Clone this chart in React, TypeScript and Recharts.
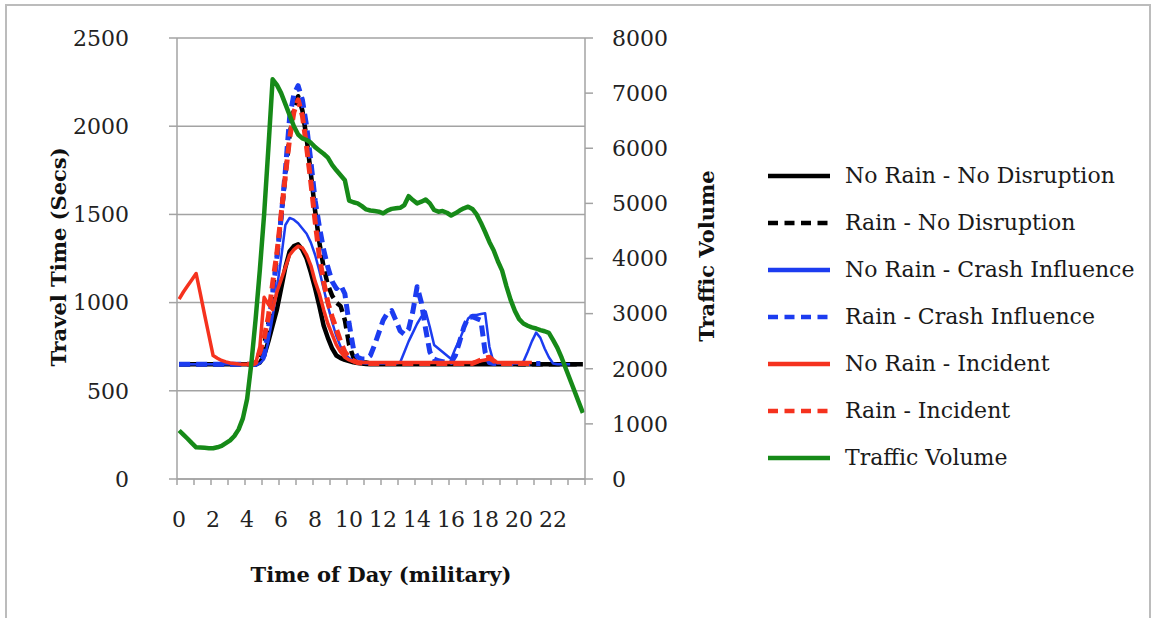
import React from 'react';
import { LineChart, Line, XAxis, YAxis, CartesianGrid, Label } from 'recharts';

// time of day in hours (15-minute steps)
const times = [
  0, 0.25, 0.5, 0.75, 1, 1.25, 1.5, 1.75, 2, 2.25, 2.5, 2.75, 3, 3.25, 3.5, 3.75,
  4, 4.25, 4.5, 4.75, 5, 5.25, 5.5, 5.75, 6, 6.25, 6.5, 6.75, 7, 7.25, 7.5, 7.75,
  8, 8.25, 8.5, 8.75, 9, 9.25, 9.5, 9.75, 10, 10.25, 10.5, 10.75, 11, 11.25, 11.5, 11.75,
  12, 12.25, 12.5, 12.75, 13, 13.25, 13.5, 13.75, 14, 14.25, 14.5, 14.75, 15, 15.25, 15.5, 15.75,
  16, 16.25, 16.5, 16.75, 17, 17.25, 17.5, 17.75, 18, 18.25, 18.5, 18.75, 19, 19.25, 19.5, 19.75,
  20, 20.25, 20.5, 20.75, 21, 21.25, 21.5, 21.75, 22, 22.25, 22.5, 22.75, 23, 23.25, 23.5, 23.75,
];

const xTickLabels = ['0', '2', '4', '6', '8', '10', '12', '14', '16', '18', '20', '22'];
const leftTicks = [0, 500, 1000, 1500, 2000, 2500];
const rightTicks = [0, 1000, 2000, 3000, 4000, 5000, 6000, 7000, 8000];

const noRainNoDisruption = [
  650, 650, 650, 650, 650, 650, 650, 650, 650, 650, 650, 650, 650, 650, 650, 650,
  650, 650, 650, 660, 700, 780, 870, 960, 1080, 1200, 1290, 1320, 1330, 1300, 1250, 1170,
  1080, 980, 870, 800, 740, 700, 685, 675, 668, 662, 658, 655, 652, 650, 650, 650,
  650, 650, 650, 650, 650, 650, 650, 650, 650, 650, 650, 650, 650, 650, 650, 650,
  650, 650, 650, 650, 650, 650, 650, 650, 650, 650, 650, 650, 650, 650, 650, 650,
  650, 650, 650, 650, 650, 650, 650, 650, 650, 650, 650, 650, 650, 650, 650, 650,
];

const rainNoDisruption = [
  650, 650, 650, 650, 650, 650, 650, 650, 650, 650, 650, 650, 650, 650, 650, 650,
  650, 650, 650, 680, 760, 880, 1060, 1260, 1480, 1720, 1950, 2100, 2170, 2090, 1930, 1730,
  1520, 1340, 1200, 1100, 1040, 1000, 980, 900, 760, 690, 670, 660, 660, 655, 655, 655,
  655, 655, 655, 655, 655, 655, 655, 655, 655, 655, 655, 655, 655, 655, 655, 655,
  655, 655, 655, 655, 655, 655, 655, 655, 655, 655, 655, 655, 655, 655, 655, 655,
  650, 650, 650, 650, 650, 650, 650, 650, 650, 650, 650, 650, 650, 650, 650, 650,
];

const noRainCrash = [
  650, 650, 650, 650, 650, 650, 650, 650, 650, 650, 650, 650, 650, 650, 650, 650,
  650, 650, 650, 655, 680, 780, 920, 1080, 1250, 1440, 1480, 1470, 1450, 1420, 1390, 1340,
  1270, 1180, 1080, 980, 890, 810, 750, 710, 685, 670, 662, 658, 655, 655, 655, 655,
  655, 655, 655, 655, 660, 720, 780, 830, 880, 920, 950, 860, 760, 740, 720, 700,
  680, 740, 790, 850, 910, 930, 930, 935, 940, 750, 660, 655, 655, 655, 655, 655,
  655, 665, 720, 780, 830, 800, 740, 690, 655, 650, 650, 650, 650, null, null, null,
];

const rainCrash = [
  650, 650, 650, 650, 650, 650, 650, 650, 650, 650, 650, 650, 650, 650, 650, 650,
  650, 650, 650, 660, 700, 850, 1050, 1250, 1480, 1750, 2050, 2180, 2230, 2150, 2000, 1800,
  1580, 1430, 1300, 1200, 1120, 1080, 1100, 1050, 880, 740, 690, 680, 680, 700, 760, 830,
  900, 940, 955, 900, 840, 820, 850, 950, 1090, 1000, 850, 720, 680, 670, 665, 660,
  660, 700, 780, 860, 915, 920, 910, 900, 720, 660, 655, 655, 655, 655, 655, 655,
  655, 655, 655, 655, 655, 655, null, null, null, null, null, null, null, null, null, null,
];

const noRainIncident = [
  1020, 1060, 1095, 1130, 1165, 1050, 930, 815, 700, 685, 672, 664, 658, 655, 652, 650,
  650, 650, 655, 750, 1030, 990, 960, 1060, 1130, 1200, 1270, 1300, 1320, 1310, 1270, 1210,
  1120, 1050, 960, 880, 820, 760, 720, 690, 675, 665, 660, 660, 660, 660, 660, 660,
  660, 660, 660, 660, 660, 660, 660, 660, 660, 660, 660, 660, 660, 660, 660, 660,
  660, 660, 660, 660, 660, 660, 665, 670, 675, 680, 670, 660, 660, 660, 660, 660,
  660, 660, 660, 660, null, null, null, null, null, null, null, null, null, null, null, null,
];

const rainIncident = [
  null, null, null, null, null, null, null, null, null, null, null, null, null, null, null, null,
  650, 650, 660, 720, 800, 920, 1110, 1280, 1500, 1720, 1930, 2080, 2150, 2060, 1880, 1680,
  1460, 1260, 1120, 1000, 920, 850, 780, 720, 690, 670, 660, 658, 655, 655, 655, 655,
  655, 655, 655, 655, 655, 655, 655, 655, 655, 655, 655, 655, 655, 655, 655, 655,
  655, 655, 655, 655, 655, 655, 665, 675, 685, 690, 670, 655, 655, 655, 655, 655,
  655, 655, 655, 655, null, null, null, null, null, null, null, null, null, null, null, null,
];

const trafficVolume = [
  880, 805, 730, 650, 575, 570, 565, 560, 557, 575, 600, 650, 700, 780, 900, 1100,
  1450, 2100, 2900, 3800, 4800, 6000, 7250, 7150, 7000, 6800, 6600, 6400, 6250, 6180, 6150, 6100,
  6020, 5960, 5900, 5830, 5700, 5600, 5510, 5420, 5050, 5020, 5000, 4950, 4890, 4870, 4860, 4850,
  4820, 4870, 4900, 4910, 4920, 4970, 5130, 5060, 5000, 5030, 5070, 5000, 4880, 4850, 4860, 4830,
  4780, 4820, 4870, 4910, 4940, 4900, 4800, 4650, 4480, 4300, 4150, 3950, 3780, 3500, 3250, 3050,
  2900, 2820, 2780, 2750, 2730, 2700, 2680, 2650, 2520, 2380, 2200, 2000, 1800, 1600, 1400, 1200,
];

const BLACK = '#000000';
const BLUE = '#1c3cf0';
const RED = '#f5321e';
const GREEN = '#168a18';
const AXIS = '#a3a3a3';
const FONT = 'DejaVu Serif';

const series = [
  { key: 'nrnd', name: 'No Rain - No Disruption', values: noRainNoDisruption, color: BLACK, width: 4.5, dash: undefined as string | undefined, axis: 'l' },
  { key: 'rnd', name: 'Rain - No Disruption', values: rainNoDisruption, color: BLACK, width: 4.5, dash: '11 6', axis: 'l' },
  { key: 'nrc', name: 'No Rain - Crash Influence', values: noRainCrash, color: BLUE, width: 2.5, dash: undefined, axis: 'l' },
  { key: 'rc', name: 'Rain - Crash Influence', values: rainCrash, color: BLUE, width: 5, dash: '11 6', axis: 'l' },
  { key: 'nri', name: 'No Rain - Incident', values: noRainIncident, color: RED, width: 3.5, dash: undefined, axis: 'l' },
  { key: 'ri', name: 'Rain - Incident', values: rainIncident, color: RED, width: 5, dash: '11 6', axis: 'l' },
  { key: 'tv', name: 'Traffic Volume', values: trafficVolume, color: GREEN, width: 4.5, dash: undefined, axis: 'r' },
];

const data = times.map((t, i) => {
  const row: Record<string, number | null> = { t };
  series.forEach((s) => {
    row[s.key] = s.values[i];
  });
  return row;
});

// hour boundaries for tick marks (categories sit between marks)
const xTickMarks = Array.from({ length: 25 }, (_, k) => k - 0.125);

const XTick = (props: any) => {
  const { x, y, payload } = props;
  const k = Math.round(payload.value + 0.125);
  const label = k % 2 === 0 ? xTickLabels[k / 2] : undefined;
  if (label === undefined) return <g />;
  return (
    <text x={x + 2.1} y={y} dy="0.71em" textAnchor="middle" fontFamily={FONT} fontSize={22} fill="#222">
      {label}
    </text>
  );
};

const tickStyle = { fontFamily: FONT, fontSize: 22, fill: '#222' };

export default function App() {
  return (
    <div style={{ position: 'absolute', left: 0, top: 0, width: 1154, height: 618, background: '#fff', overflow: 'hidden' }}>
      <div
        style={{
          position: 'absolute',
          left: 5,
          top: 4,
          width: 1142,
          height: 640,
          borderTop: '2px solid #bcbcbc',
          borderLeft: '2px solid #bcbcbc',
          borderRight: '2px solid #bcbcbc',
        }}
      />
      <div style={{ position: 'absolute', left: 0, top: 0 }}>
        <LineChart width={1154} height={618} data={data} margin={{ top: 38, right: 0, bottom: 0, left: 0 }}>
          <CartesianGrid yAxisId="l" horizontal vertical={false} stroke={AXIS} strokeWidth={1.5} />
          <XAxis
            dataKey="t"
            type="number"
            domain={[-0.125, 23.875]}
            ticks={xTickMarks}
            interval={0}
            height={139}
            tickSize={6}
            tickMargin={26}
            tick={<XTick />}
            axisLine={{ stroke: AXIS, strokeWidth: 1.5 }}
            tickLine={{ stroke: AXIS, strokeWidth: 1.5 }}
          >
            <Label
              content={() => (
                <text x={381} y={576} textAnchor="middle" dominantBaseline="middle" fontFamily={FONT} fontSize={21} fontWeight="bold" fill="#111">
                  Time of Day (military)
                </text>
              )}
            />
          </XAxis>
          <YAxis
            yAxisId="l"
            domain={[0, 2500]}
            ticks={leftTicks}
            interval={0}
            width={177}
            tickSize={8}
            tickMargin={40}
            tick={tickStyle}
            axisLine={{ stroke: AXIS, strokeWidth: 1.5 }}
            tickLine={{ stroke: AXIS, strokeWidth: 1.5 }}
          >
            <Label
              content={() => (
                <text x={60} y={257} transform="rotate(-90 60 257)" textAnchor="middle" dominantBaseline="middle" fontFamily={FONT} fontSize={21} fontWeight="bold" fill="#111">
                  Travel Time (Secs)
                </text>
              )}
            />
          </YAxis>
          <YAxis
            yAxisId="r"
            orientation="right"
            domain={[0, 8000]}
            ticks={rightTicks}
            interval={0}
            width={569}
            tickSize={8}
            tickMargin={19}
            tick={tickStyle}
            axisLine={{ stroke: AXIS, strokeWidth: 1.5 }}
            tickLine={{ stroke: AXIS, strokeWidth: 1.5 }}
          >
            <Label
              content={() => (
                <text x={708} y={256} transform="rotate(-90 708 256)" textAnchor="middle" dominantBaseline="middle" fontFamily={FONT} fontSize={21} fontWeight="bold" fill="#111">
                  Traffic Volume
                </text>
              )}
            />
          </YAxis>
          {series.map((s) => (
            <Line
              key={s.key}
              yAxisId={s.axis}
              dataKey={s.key}
              name={s.name}
              type="linear"
              stroke={s.color}
              strokeWidth={s.width}
              strokeDasharray={s.dash}
              strokeLinejoin="round"
              dot={false}
              activeDot={false}
              connectNulls={false}
              isAnimationActive={false}
            />
          ))}
        </LineChart>
      </div>
      <div style={{ position: 'absolute', left: 767, top: 152 }}>
        {series.map((s) => (
          <div key={s.key} style={{ display: 'flex', alignItems: 'center', height: 47 }}>
            <svg width={66} height={10} style={{ display: 'block' }}>
              <line x1={1} y1={5} x2={63} y2={5} stroke={s.color} strokeWidth={4.5} strokeDasharray={s.dash ? '10 6.5' : undefined} />
            </svg>
            <span style={{ fontFamily: FONT, fontSize: 22, color: '#1a1a1a', marginLeft: 12, whiteSpace: 'nowrap', lineHeight: '47px' }}>
              {s.name}
            </span>
          </div>
        ))}
      </div>
    </div>
  );
}
